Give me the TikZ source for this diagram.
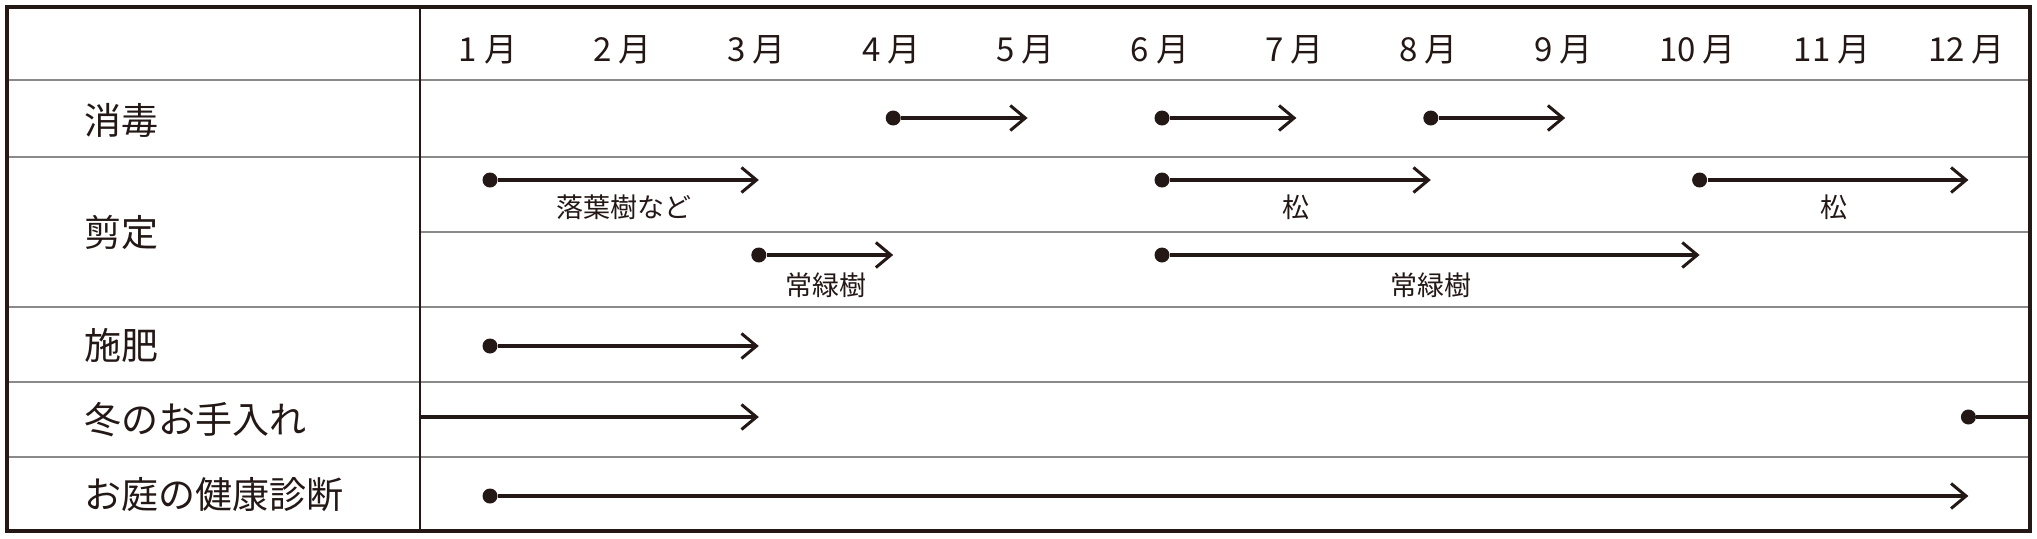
\documentclass[tikz,border=0pt]{standalone}
\usepackage{fontspec}
\setmainfont{Noto Sans CJK JP}
\usetikzlibrary{arrows.meta}
\definecolor{ink}{HTML}{231815}
\definecolor{rule}{HTML}{8A8A8A}
\tikzset{
  frame/.style={draw=ink, line width=1.6pt},
  divide/.style={draw=ink, line width=1pt},
  rowline/.style={draw=rule, line width=1pt},
  span/.style={draw=ink, line width=1.6pt, -{Straight Barb[length=7.5pt,width=12.5pt,line width=1.5pt]}},
  plain/.style={draw=ink, line width=1.6pt},
  dot/.style={circle, fill=ink, inner sep=0pt, minimum size=7.5pt},
  month/.style={text=ink, font=\fontsize{16.5}{16.5}\selectfont},
  task/.style={text=ink, font=\fontsize{18.5}{18.5}\selectfont, anchor=west, inner sep=0pt},
  note/.style={text=ink, font=\fontsize{13.5}{13.5}\selectfont}
}
\begin{document}
\begin{tikzpicture}[x=0.5pt,y=0.5pt]
  \useasboundingbox (0,0) rectangle (2037,538);
  \def\dx{134.4}
  % table rules
  \foreach \y in {458,381,231,156,81}
    \draw[rowline] (7,\y) -- (2030,\y);
  \draw[rowline] (420,306) -- (2030,306);
  \draw[divide] (420,7) -- (420,531);
  \draw[frame] (7,7) rectangle (2030,531);
  % months
  \foreach \m in {1,...,12}
    \node[month] (m\m) at ({488+(\m-1)*\dx},488) {\m\hspace{3.5pt}月};
  % tasks
  \node[task] (shodoku) at (84,418) {消毒};
  \node[task] (sentei) at (84,306) {剪定};
  \node[task] (sehi) at (84,193) {施肥};
  \node[task] (fuyu) at (84,118) {冬のお手入れ};
  \node[task] (kenko) at (84,43) {お庭の健康診断};
  % periods
  \foreach \n/\a/\b/\y in {sa/4/5/420, sb/6/7/420, sc/8/9/420,
      pa/1/3/358, pb/6/8/358, pc/10/12/358, pd/3/4/283, pe/6/10/283,
      fa/1/3/192, ka/1/12/42}{
    \node[dot] (\n) at ({490+(\a-1)*\dx},\y) {};
    \coordinate (\n e) at ({490+(\b-1)*\dx},\y);
    \draw[span] (\n) -- (\n e);
  }
  \coordinate (wa) at (420,121);
  \coordinate (wae) at ({490+2*\dx},121);
  \draw[span] (wa) -- (wae);
  \node[dot] (wb) at ({490+11*\dx},121) {};
  \coordinate (wbe) at (2030,121);
  \draw[plain] (wb) -- (wbe);
  % notes
  \node[note] (pan) at ({490+1*\dx},331) {落葉樹など};
  \node[note] (pbn) at ({490+6*\dx},331) {松};
  \node[note] (pcn) at ({490+10*\dx},331) {松};
  \node[note] (pdn) at ({490+2.5*\dx},253) {常緑樹};
  \node[note] (pen) at ({490+7*\dx},253) {常緑樹};
\end{tikzpicture}
\end{document}
